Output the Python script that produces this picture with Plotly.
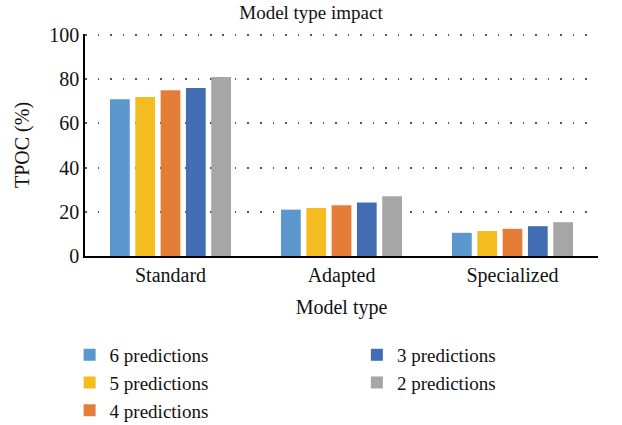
import plotly.graph_objects as go

categories = ["Standard", "Adapted", "Specialized"]
series_names = ["6 predictions", "5 predictions", "4 predictions", "3 predictions", "2 predictions"]
values_6 = [71, 21, 10.5]
values_5 = [72, 21.7, 11.3]
values_4 = [75, 23, 12.3]
values_3 = [76, 24.2, 13.5]
values_2 = [81, 27, 15.3]
colors = ["#5B96CC", "#F5BC1F", "#E47D38", "#426DB3", "#A6A6A6"]

all_values = [values_6, values_5, values_4, values_3, values_2]
legend_ids = ["legend", "legend", "legend", "legend2", "legend2"]

FONT = "Liberation Serif, Times New Roman, DejaVu Serif, serif"
FS = 20

fig = go.Figure()
for name, vals, col, lg in zip(series_names, all_values, colors, legend_ids):
    fig.add_trace(go.Bar(
        x=categories, y=vals, name=name,
        marker=dict(color=col, line=dict(width=0)),
        legend=lg,
    ))

fig.update_layout(
    width=622, height=425,
    margin=dict(l=85, r=24, t=34, b=169, autoexpand=False),
    paper_bgcolor="white", plot_bgcolor="white",
    font=dict(family=FONT, size=FS, color="#111111"),
    title=dict(text="Model type impact", x=0.5, xanchor="center", y=0.970, yanchor="middle",
               font=dict(family=FONT, size=19, color="#111111")),
    barmode="group", bargap=0.26, bargroupgap=0.22,
    showlegend=True,
    legend=dict(x=-0.03, xanchor="left", y=-0.36, yanchor="top", orientation="v",
                font=dict(family=FONT, size=19), tracegroupgap=0, itemwidth=30,
                bgcolor="rgba(0,0,0,0)"),
    legend2=dict(x=0.53, xanchor="left", y=-0.36, yanchor="top", orientation="v",
                 font=dict(family=FONT, size=19), tracegroupgap=0, itemwidth=30,
                 bgcolor="rgba(0,0,0,0)"),
)
fig.update_xaxes(
    showline=True, linecolor="#000000", linewidth=1.5, showgrid=False, ticks="",
    automargin=False,
    title=dict(text="Model type", font=dict(family=FONT, size=FS), standoff=14),
    tickfont=dict(family=FONT, size=FS),
)
fig.update_yaxes(
    range=[0, 100.5], tickvals=[0, 20, 40, 60, 80, 100], showline=True,
    linecolor="#000000", linewidth=1.5,
    showgrid=True, gridcolor="#555555", griddash="1.5px,11px", gridwidth=1.5, ticks="",
    zeroline=False, automargin=False,
    title=dict(text="TPOC (%)", font=dict(family=FONT, size=FS), standoff=14),
    tickfont=dict(family=FONT, size=FS),
)

fig.write_html("out.html", config={"displayModeBar": False},
               post_script="document.body.style.margin='0';")
